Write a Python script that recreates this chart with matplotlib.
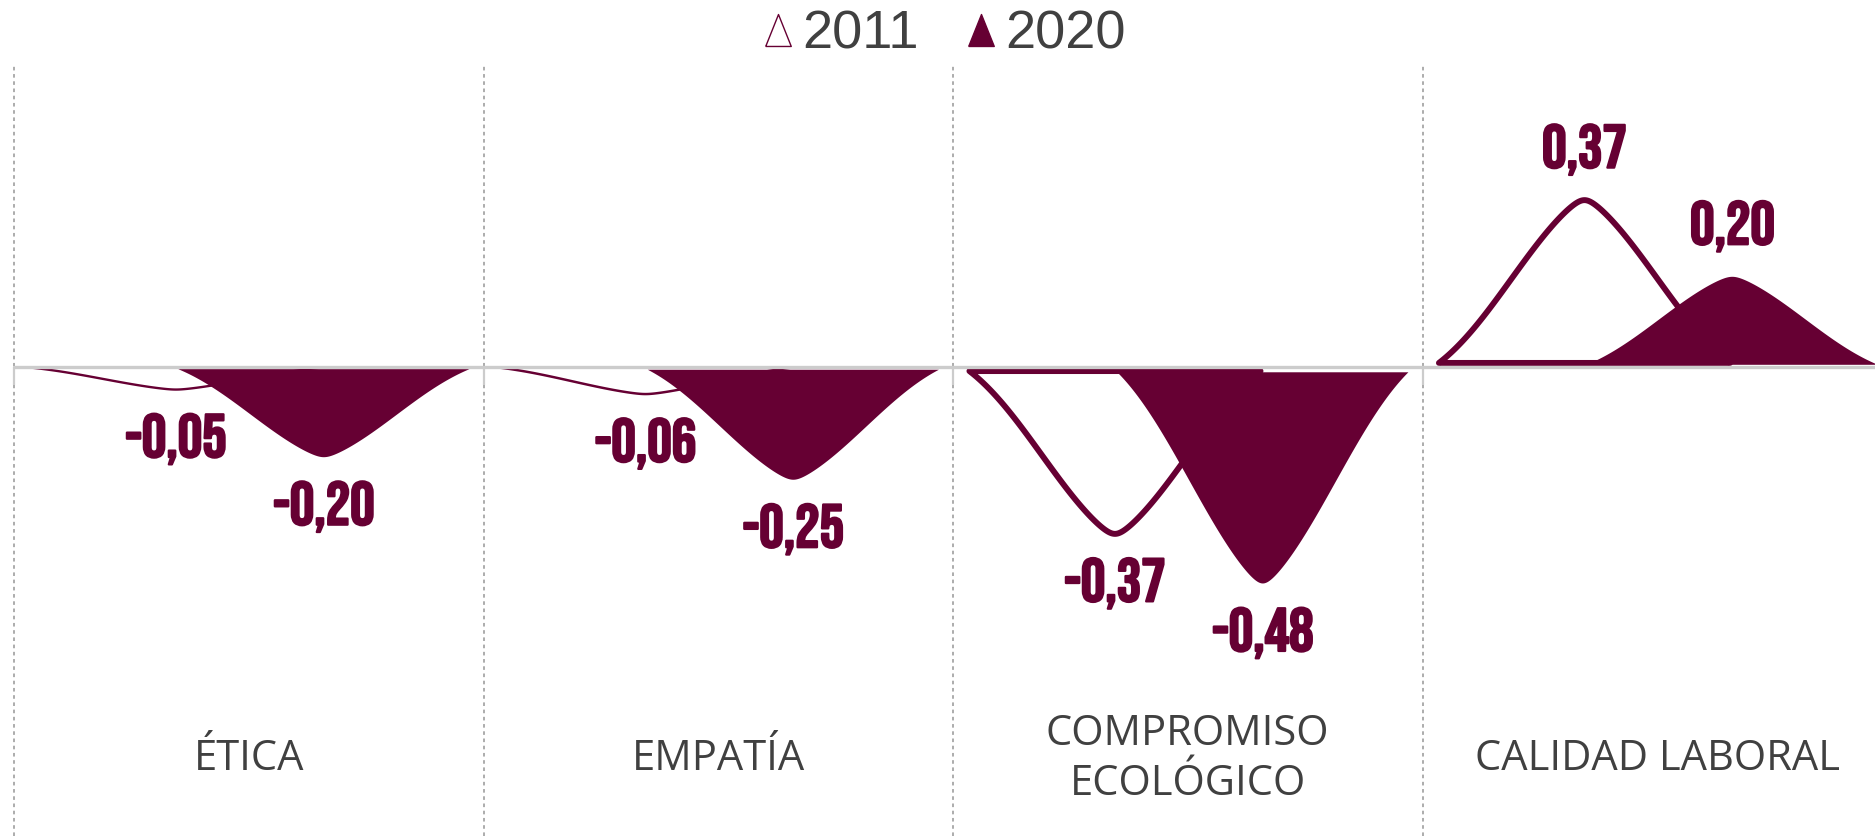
import numpy as np
import matplotlib.pyplot as plt
import matplotlib.patheffects as pe
from matplotlib.lines import Line2D

# ------------------------
# Data
# ------------------------
categories = ['ÉTICA', 'EMPATÍA', 'COMPROMISO\nECOLÓGICO', 'CALIDAD LABORAL']
years = ['2011', '2020']
vals_2011 = [-0.05, -0.06, -0.37, 0.37]
vals_2020 = [-0.20, -0.25, -0.48, 0.20]

maroon = '#660033'
grey_text = '#404040'

# ------------------------
# Bell shape used for each "curved column"
# ------------------------
def bell(t, e=0.06):
    a = (np.sqrt(t**2 + e**2) - e) / (np.sqrt(1 + e**2) - e)
    lin = 1 - a
    cos = (1 + np.cos(np.pi * t)) / 2
    return 0.65 * lin + 0.35 * cos


def fmt(v):
    return f"{v:.2f}".replace('.', ',')


fig = plt.figure(figsize=(18.75, 8.36), dpi=100)
ax = fig.add_axes([0, 0, 1, 770 / 836])
ax.set_xlim(-14 / 469.5, (1875 - 14) / 469.5)
ax.set_ylim(-469 / 440, 301 / 440)
ax.axis('off')

n = len(categories)
t = np.linspace(-1, 1, 301)
half_w = 0.31
centers = {'2011': 0.345, '2020': 0.66}

# panel separators
for i in range(n):
    ax.axvline(i, color='#a6a6a6', lw=1.3, linestyle=(0, (2, 2)), zorder=0)

# zero line with small ticks
ax.hlines(0, 0, ax.get_xlim()[1], color='#cccccc', lw=2.4, zorder=2.5)
ax.vlines(range(n), -0.04, 0, color='#cccccc', lw=1.6, zorder=1)

bold = [pe.withStroke(linewidth=1.6, foreground=maroon)]

for i in range(n):
    for year, vals in zip(years, [vals_2011, vals_2020]):
        v = vals[i]
        s = np.sign(v)
        base = 0.025 * v
        x = i + centers[year] + half_w * t
        y = base + v * bell(t)
        if year == '2011':
            ax.fill(x, y, facecolor='white', edgecolor=maroon,
                    lw=min(4.4, 1.3 + 8 * abs(v)), joinstyle='round', zorder=2)
        else:
            ax.fill(x, y, facecolor=maroon, edgecolor='none', zorder=3)
        ax.annotate(fmt(v), (i + centers[year], base + v),
                    xytext=(0, 36 * s), textcoords='offset points',
                    ha='center', va='center', fontsize=44,
                    color=maroon, family=['Bebas Neue', 'DejaVu Sans'],
                    path_effects=bold, zorder=4)

    ax.text(i + 0.5, -392 / 440, categories[i], ha='center', va='center',
            fontsize=30, color=grey_text, family='Open Sans', linespacing=1.25)

# legend
tri = [(-0.8, -1), (0.8, -1), (0, 1), (-0.8, -1)]
handles = [
    Line2D([], [], marker=tri, linestyle='none', markersize=23,
           markerfacecolor='white', markeredgecolor=maroon, markeredgewidth=1),
    Line2D([], [], marker=tri, linestyle='none', markersize=23,
           markerfacecolor=maroon, markeredgecolor=maroon, markeredgewidth=1),
]
leg = fig.legend(handles, years, loc='upper center', bbox_to_anchor=(0.5034, 1.027),
                 ncol=2, frameon=False, fontsize=39, handlelength=0.6,
                 handletextpad=0.15, columnspacing=0.85, borderpad=0.1)
for txt in leg.get_texts():
    txt.set_color(grey_text)
    txt.set_family('Liberation Sans')

fig.savefig('out.png', dpi=100)
